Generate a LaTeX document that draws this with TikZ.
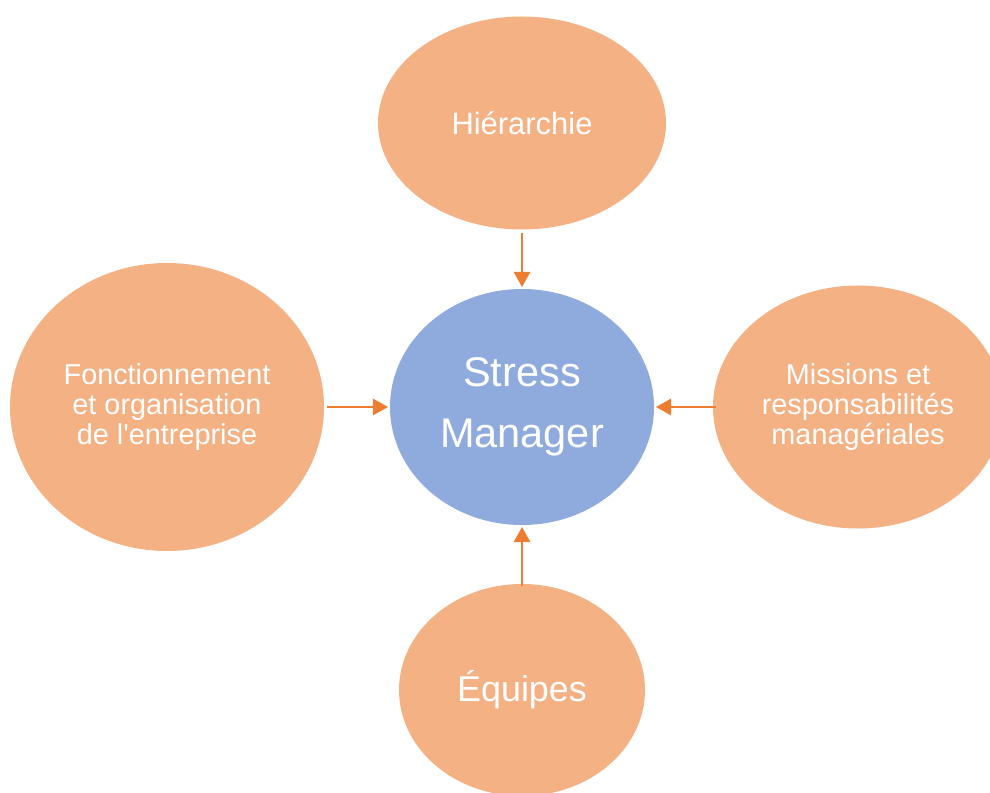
\documentclass[tikz,border=0pt]{standalone}
\usepackage{fontspec}
\setmainfont{Liberation Sans}
\usetikzlibrary{shapes.geometric,arrows.meta}
\definecolor{peach}{HTML}{F4B183}
\definecolor{steel}{HTML}{8FAADC}
\definecolor{tangerine}{HTML}{ED7D31}
\tikzset{
	bubble/.style={ellipse, fill=peach, text=white, inner sep=0pt, align=center,
		font=\fontsize{20.5}{21.3}\selectfont},
	hub/.style={bubble, fill=steel, font=\fontsize{29.5}{43}\selectfont},
	push/.style={draw=tangerine, line width=2pt, -{Triangle[length=0.38cm,width=0.4cm]},
		shorten <=0.08cm, shorten >=0.04cm}
}
\begin{document}
\begin{tikzpicture}[x=0.025cm, y=-0.025cm]
	\useasboundingbox (0,0) rectangle (990,793);
	\node[hub, minimum width=264*0.025cm, minimum height=236*0.025cm] (stress) at (522,407) {Stress\\Manager};
	\node[bubble, minimum width=288*0.025cm, minimum height=213*0.025cm, font=\fontsize{22}{26}\selectfont] (hier) at (522,123) {Hiérarchie};
	\node[bubble, minimum width=314*0.025cm, minimum height=288*0.025cm] (fonc) at (167,407) {Fonctionnement\\et organisation\\de l\textquotesingle entreprise};
	\node[bubble, minimum width=290*0.025cm, minimum height=243*0.025cm] (miss) at (858,407) {Missions et\\responsabilités\\managériales};
	\node[bubble, minimum width=246*0.025cm, minimum height=212*0.025cm, font=\fontsize{25.5}{30}\selectfont] (equip) at (522,690) {Équipes};
	%fleches
	\draw[push] (hier) -- (stress);
	\draw[push] (fonc.east) -- (stress.west);
	\draw[push, shorten <=-0.08cm] (miss.west) -- (stress.east);
	\draw[push, shorten <=-0.05cm] (equip) -- (stress);
\end{tikzpicture}
\end{document}
